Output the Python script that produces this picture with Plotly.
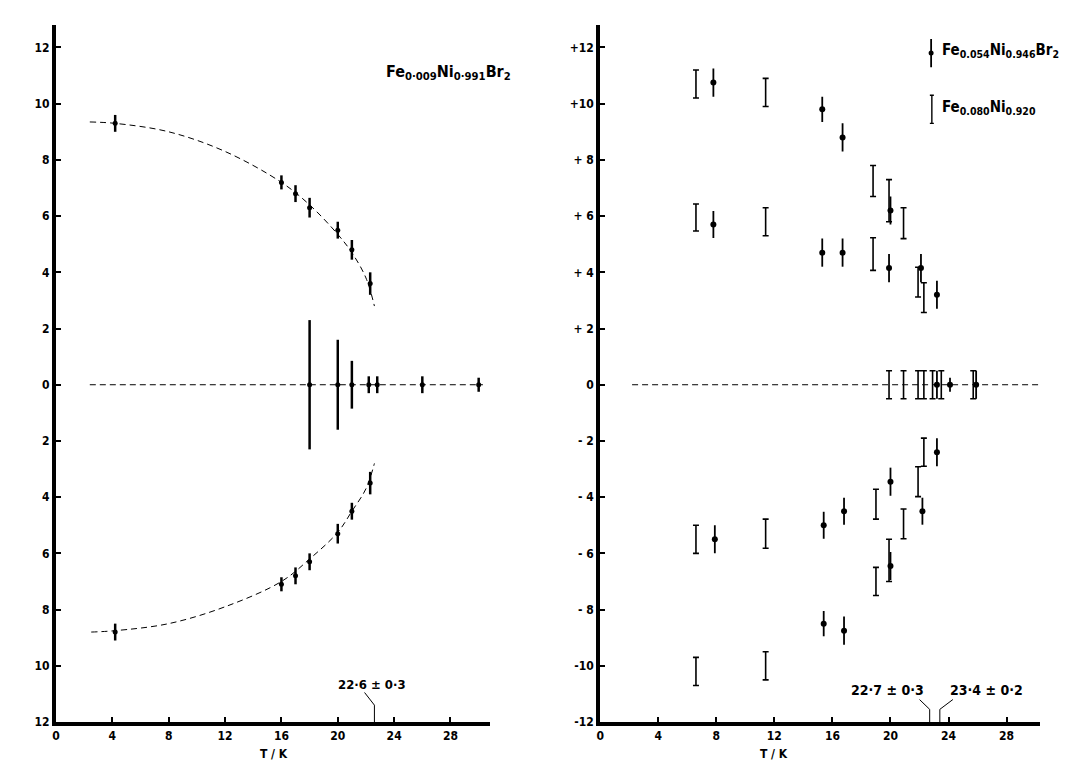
import plotly.graph_objects as go

# ---------------- Panel a : Fe0.009Ni0.991Br2 ----------------
a_T = [4.2, 16.0, 17.0, 18.0, 20.0, 21.0, 22.3]
a_up = [9.3, 7.2, 6.8, 6.3, 5.5, 4.8, 3.6]
a_up_err = [0.3, 0.25, 0.3, 0.35, 0.3, 0.35, 0.4]
a_lo = [-8.8, -7.1, -6.8, -6.3, -5.3, -4.5, -3.5]
a_lo_err = [0.3, 0.25, 0.3, 0.3, 0.35, 0.3, 0.4]
a_mid_T = [18.0, 20.0, 21.0, 22.2, 22.8, 26.0, 30.0]
a_mid = [0, 0, 0, 0, 0, 0, 0]
a_mid_err = [2.3, 1.6, 0.85, 0.3, 0.3, 0.3, 0.25]

# dashed guide curves
a_cu_T = [2.4, 4.2, 8.0, 12.0, 16.0, 18.0, 20.0, 21.0, 22.0, 22.6]
a_cu_w = [9.35, 9.3, 9.0, 8.3, 7.2, 6.4, 5.35, 4.7, 3.8, 2.8]
a_cl_T = [2.5, 4.2, 8.0, 12.0, 16.0, 18.0, 20.0, 21.0, 22.0, 22.6]
a_cl_w = [-8.8, -8.75, -8.5, -7.9, -7.0, -6.2, -5.25, -4.5, -3.7, -2.8]
a_zero_T = [2.4, 30.3]

# ---------------- Panel b ----------------
# Fe0.054Ni0.946Br2 (filled dots)
b1_T = [7.8, 15.3, 16.7, 20.0, 7.8, 15.3, 16.7, 19.9, 22.1, 23.2,
        23.2, 24.1, 25.9,
        7.9, 15.4, 16.8, 20.0, 22.2, 23.2, 15.4, 16.8, 20.0]
b1_w = [10.75, 9.8, 8.8, 6.2, 5.7, 4.7, 4.7, 4.15, 4.15, 3.2,
        0, 0, 0,
        -5.5, -5.0, -4.5, -3.45, -4.5, -2.4, -8.5, -8.75, -6.45]
b1_err = [0.5, 0.45, 0.5, 0.5, 0.48, 0.5, 0.5, 0.5, 0.5, 0.5,
          0.5, 0.25, 0.5,
          0.5, 0.48, 0.48, 0.5, 0.48, 0.5, 0.45, 0.5, 0.5]
# Fe0.080Ni0.920 (open I-bars)
b2_T = [6.6, 11.4, 18.8, 19.9, 20.9, 6.6, 11.4, 18.8, 21.9, 22.3,
        19.9, 20.9, 21.9, 22.3, 22.9, 23.5, 25.7,
        6.6, 11.4, 19.0, 20.9, 21.9, 22.3, 19.0, 19.9, 6.6, 11.4]
b2_w = [10.7, 10.4, 7.25, 6.55, 5.75, 5.95, 5.8, 4.65, 3.65, 3.1,
        0, 0, 0, 0, 0, 0, 0,
        -5.5, -5.3, -4.25, -4.95, -3.45, -2.4, -7.0, -6.25, -10.2, -10.0]
b2_err = [0.5, 0.5, 0.55, 0.75, 0.55, 0.48, 0.5, 0.58, 0.53, 0.53,
          0.5, 0.5, 0.5, 0.5, 0.5, 0.5, 0.5,
          0.5, 0.52, 0.53, 0.53, 0.53, 0.5, 0.5, 0.75, 0.5, 0.5]
b_zero_T = [2.2, 30.3]

# tick labels
x_ticks = [0, 4, 8, 12, 16, 20, 24, 28]
y_ticks = [-12, -10, -8, -6, -4, -2, 0, 2, 4, 6, 8, 10, 12]
a_ytext = ["12", "10", "8", "6", "4", "2", "0", "2", "4", "6", "8", "10", "12"]
b_ytext = ["-12", "-10", "- 8", "- 6", "- 4", "- 2", "0", "+ 2", "+ 4", "+ 6", "+ 8", "+10", "+12"]

FONT = "Liberation Sans Narrow, DejaVu Sans Condensed, Arial Narrow, sans-serif"
DASH = "6px,4px"

fig = go.Figure()

# panel a curves
for tx, wy in [(a_cu_T, a_cu_w), (a_cl_T, a_cl_w)]:
    fig.add_trace(go.Scatter(x=tx, y=wy, mode="lines", line=dict(color="black", width=1, dash=DASH, shape="spline"),
                             xaxis="x", yaxis="y", showlegend=False, hoverinfo="skip"))
fig.add_trace(go.Scatter(x=a_zero_T, y=[0, 0], mode="lines", line=dict(color="black", width=1, dash=DASH),
                         xaxis="x", yaxis="y", showlegend=False, hoverinfo="skip"))

# panel a points
for tx, wy, er in [(a_T, a_up, a_up_err), (a_T, a_lo, a_lo_err), (a_mid_T, a_mid, a_mid_err)]:
    fig.add_trace(go.Scatter(x=tx, y=wy, mode="markers", marker=dict(color="black", size=5),
                             error_y=dict(type="data", array=er, visible=True, color="black", thickness=2.5, width=0),
                             xaxis="x", yaxis="y", showlegend=False))

# panel b zero line
fig.add_trace(go.Scatter(x=b_zero_T, y=[0, 0], mode="lines", line=dict(color="black", width=1, dash=DASH),
                         xaxis="x2", yaxis="y2", showlegend=False, hoverinfo="skip"))
# open I-bars
fig.add_trace(go.Scatter(x=b2_T, y=b2_w, mode="markers", marker=dict(color="black", size=1, opacity=0),
                         error_y=dict(type="data", array=b2_err, visible=True, color="black", thickness=1.6, width=3),
                         xaxis="x2", yaxis="y2", showlegend=False))
# filled dots
fig.add_trace(go.Scatter(x=b1_T, y=b1_w, mode="markers", marker=dict(color="black", size=6),
                         error_y=dict(type="data", array=b1_err, visible=True, color="black", thickness=1.8, width=0),
                         xaxis="x2", yaxis="y2", showlegend=False))
# legend symbols
fig.add_trace(go.Scatter(x=[22.8], y=[11.8], mode="markers", marker=dict(color="black", size=5),
                         error_y=dict(type="data", array=[0.5], visible=True, color="black", thickness=1.8, width=0),
                         xaxis="x2", yaxis="y2", showlegend=False))
fig.add_trace(go.Scatter(x=[22.85], y=[9.8], mode="markers", marker=dict(color="black", size=1, opacity=0),
                         error_y=dict(type="data", array=[0.5], visible=True, color="black", thickness=1.4, width=2),
                         xaxis="x2", yaxis="y2", showlegend=False))

# leader lines
fig.add_trace(go.Scatter(x=[22.6, 22.6, 21.9], y=[-12, -11.4, -10.95], mode="lines",
                         line=dict(color="black", width=1), xaxis="x", yaxis="y", showlegend=False, hoverinfo="skip"))
fig.add_trace(go.Scatter(x=[22.7, 22.7, 22.0], y=[-12, -11.55, -11.2], mode="lines",
                         line=dict(color="black", width=1), xaxis="x2", yaxis="y2", showlegend=False, hoverinfo="skip"))
fig.add_trace(go.Scatter(x=[23.4, 23.4, 24.3], y=[-12, -11.55, -11.2], mode="lines",
                         line=dict(color="black", width=1), xaxis="x2", yaxis="y2", showlegend=False, hoverinfo="skip"))

axis_common = dict(showline=True, linewidth=4, linecolor="black", showgrid=False, zeroline=False,
                   ticks="inside", ticklen=5, tickwidth=1.5, tickcolor="black",
                   tickfont=dict(family=FONT, size=12, color="black", weight="bold"))

# page body has an 8px margin, so the figure is 16px smaller than the window
fig.update_layout(
    width=1055, height=754,
    margin=dict(l=48, r=23, t=17, b=40),
    paper_bgcolor="white", plot_bgcolor="white",
    xaxis=dict(domain=[0, 0.441], range=[0, 30.8], tickvals=x_ticks, anchor="y", **axis_common),
    yaxis=dict(domain=[0, 1], range=[-12, 12.8], tickvals=y_ticks, ticktext=a_ytext, anchor="x", **axis_common),
    xaxis2=dict(domain=[0.553, 1.0], range=[0, 30.3], tickvals=x_ticks, anchor="y2", **axis_common),
    yaxis2=dict(domain=[0, 1], range=[-12, 12.8], tickvals=y_ticks, ticktext=b_ytext, anchor="x2", **axis_common),
)

bold = dict(family=FONT, color="black", weight="bold")
ann = [
    dict(x=23.3, y=11.1, xref="x", yref="y", xanchor="left", yanchor="middle",
         text="Fe<sub>0·009</sub>Ni<sub>0·991</sub>Br<sub>2</sub>", font=dict(size=16, **bold)),
    dict(x=22.4, y=-10.65, xref="x", yref="y", xanchor="center", yanchor="middle",
         text="22·6 ± 0·3", font=dict(size=13, **bold)),
    dict(x=23.4, y=11.9, xref="x2", yref="y2", xanchor="left", yanchor="middle",
         text="Fe<sub>0.054</sub>Ni<sub>0.946</sub>Br<sub>2</sub>", font=dict(size=15, **bold)),
    dict(x=23.4, y=9.85, xref="x2", yref="y2", xanchor="left", yanchor="middle",
         text="Fe<sub>0.080</sub>Ni<sub>0.920</sub>", font=dict(size=15, **bold)),
    dict(x=19.8, y=-10.85, xref="x2", yref="y2", xanchor="center", yanchor="middle",
         text="22·7 ± 0·3", font=dict(size=14, **bold)),
    dict(x=26.6, y=-10.85, xref="x2", yref="y2", xanchor="center", yanchor="middle",
         text="23·4 ± 0·2", font=dict(size=14, **bold)),
    dict(x=15.5, y=-0.033, xref="x", yref="paper", xanchor="center", yanchor="top",
         text="T / K", font=dict(size=12, **bold)),
    dict(x=12.0, y=-0.033, xref="x2", yref="paper", xanchor="center", yanchor="top",
         text="T / K", font=dict(size=12, **bold)),
    dict(x=-2.7, y=-0.05, xref="x", yref="paper", xanchor="center", yanchor="top",
         text="a", font=dict(size=15, **bold)),
    dict(x=-1.7, y=-0.05, xref="x2", yref="paper", xanchor="center", yanchor="top",
         text="b", font=dict(size=15, **bold)),
    dict(x=-1.9, y=1.0, xref="x", yref="y", xanchor="center", yanchor="middle",
         text="ω<sup>o</sup><sub>corr</sub>", font=dict(size=17, **bold)),
    dict(x=-1.8, y=1.0, xref="x2", yref="y2", xanchor="center", yanchor="middle",
         text="ω<sup>o</sup><sub>REL</sub>", font=dict(size=17, **bold)),
]
for a in ann:
    a["showarrow"] = False
fig.update_layout(annotations=ann)

fig.write_html("out.html")
